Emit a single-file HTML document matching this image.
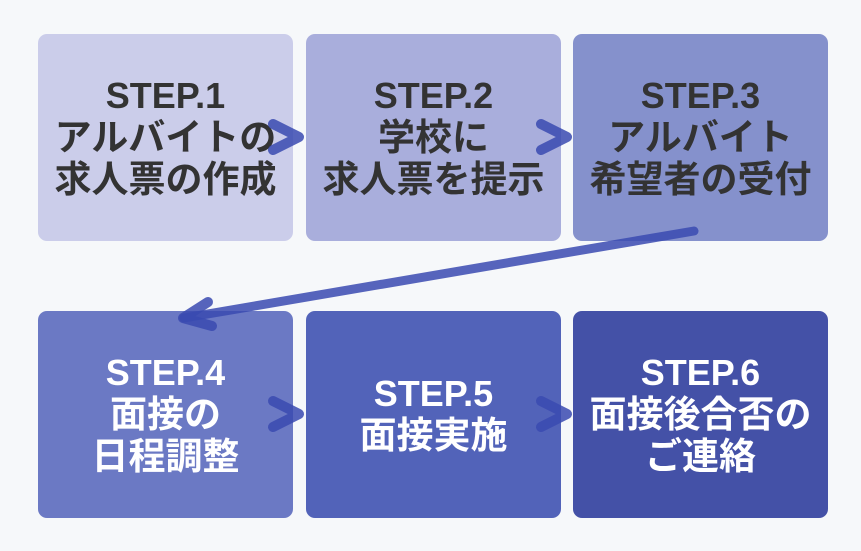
<!DOCTYPE html>
<html>
<head>
<meta charset="utf-8">
<style>
  html, body { margin: 0; padding: 0; }
  body {
    width: 861px; height: 551px; overflow: hidden;
    background: #f6f8fa;
    position: relative;
    font-family: "Liberation Sans", "Noto Sans CJK JP", sans-serif;
  }
  .box {
    position: absolute;
    width: 255px; height: 207px;
    border-radius: 9px;
    display: flex; align-items: center; justify-content: center;
    text-align: center;
    font-weight: bold;
    font-size: 37px;
    line-height: 42px;
  }
  .box .s { font-size: 36px; }
  .dark { color: #333333; }
  .light { color: #ffffff; }
  svg { position: absolute; left: 0; top: 0; }
</style>
</head>
<body>
  <div class="box dark" style="left:38px; top:34px; background:#cbcdea;">
    <div><span class="s">STEP.1</span><br>アルバイトの<br>求人票の作成</div>
  </div>
  <div class="box dark" style="left:306px; top:34px; background:#a9aedc;">
    <div><span class="s">STEP.2</span><br>学校に<br>求人票を提示</div>
  </div>
  <div class="box dark" style="left:573px; top:34px; background:#8591cc;">
    <div><span class="s">STEP.3</span><br>アルバイト<br>希望者の受付</div>
  </div>
  <div class="box light" style="left:38px; top:311px; background:#6b79c4;">
    <div><span class="s">STEP.4</span><br>面接の<br>日程調整</div>
  </div>
  <div class="box light" style="left:306px; top:311px; background:#5263b9;">
    <div><span class="s">STEP.5</span><br>面接実施</div>
  </div>
  <div class="box light" style="left:573px; top:311px; background:#4451a7;">
    <div><span class="s">STEP.6</span><br>面接後合否の<br>ご連絡</div>
  </div>

  <svg width="861" height="551" viewBox="0 0 861 551">
    <g fill="none" stroke="#3a4ab0" stroke-opacity="0.85" stroke-width="10" stroke-linecap="round" stroke-linejoin="round">
      <polyline points="273,124 299,137 273,150"/>
      <polyline points="541,124 567,137 541,150"/>
      <polyline points="273,401 299,414 273,427"/>
      <polyline points="541,401 567,414 541,427"/>
      <line x1="694" y1="231" x2="184" y2="318" stroke-width="9"/>
      <polyline points="208,302 183,318 212,326"/>
    </g>
  </svg>
</body>
</html>
